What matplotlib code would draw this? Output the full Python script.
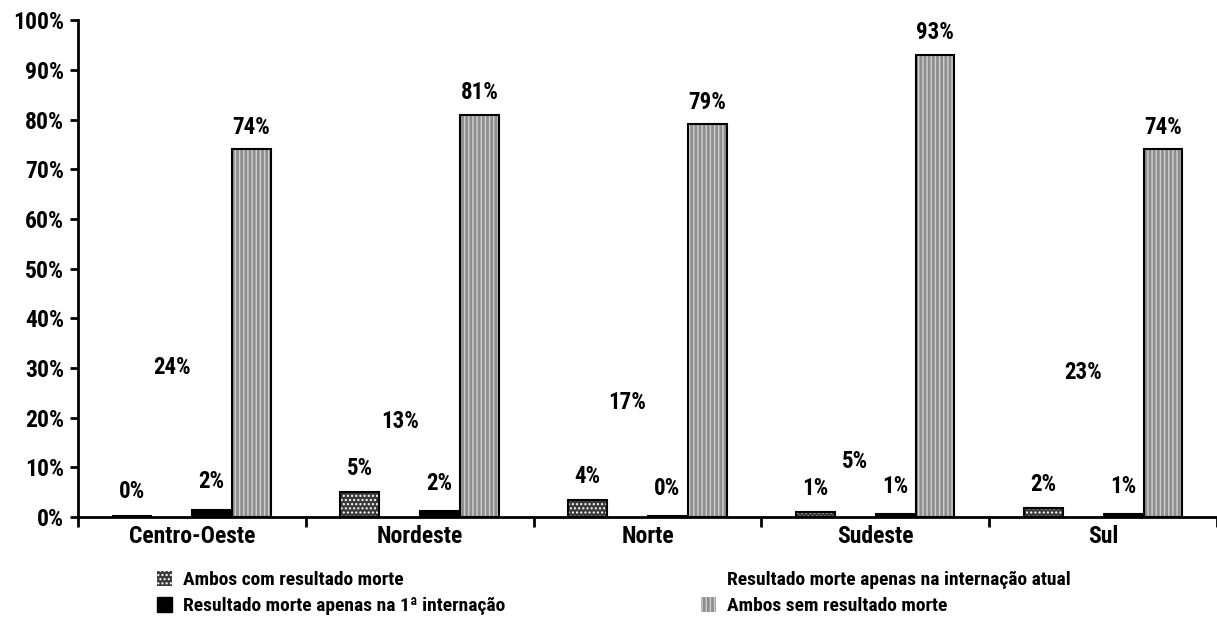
import matplotlib
matplotlib.use("Agg")
import matplotlib.pyplot as plt
from matplotlib.patches import Patch
import numpy as np

regions = ["Centro-Oeste", "Nordeste", "Norte", "Sudeste", "Sul"]
series_names = ["Ambos com resultado morte",
                "Resultado morte apenas na internação atual",
                "Resultado morte apenas na 1ª internação",
                "Ambos sem resultado morte"]
ambos_com = [0.3, 5, 3.5, 1, 1.8]
atual = [24, 13, 17, 5, 23]
primeira = [1.5, 1.2, 0.2, 0.6, 0.6]
ambos_sem = [74, 81, 79, 93, 74]
labels_com = ["0%", "5%", "4%", "1%", "2%"]
labels_atual = ["24%", "13%", "17%", "5%", "23%"]
labels_primeira = ["2%", "2%", "0%", "1%", "1%"]
labels_sem = ["74%", "81%", "79%", "93%", "74%"]
yticks = list(range(0, 101, 10))

plt.rcParams['font.family'] = ['Roboto Condensed', 'Liberation Sans Narrow', 'Liberation Sans', 'DejaVu Sans']
plt.rcParams['font.weight'] = 'bold'
plt.rcParams['hatch.linewidth'] = 1.0

FS = 17
LFS = 16.5
LEGFS = 14

fig = plt.figure(figsize=(12.17, 6.29), dpi=100)
ax = fig.add_axes([0.064, 0.178, 0.936, 0.79])

x = np.arange(len(regions))
w = 0.175
offs = [-1.5 * w, -0.5 * w, 0.5 * w, 1.5 * w]

SEM_FACE = '#8e8e8e'
SEM_HATCH = '#d0d0d0'

# Ambos com: dark dotted
ax.bar(x + offs[0], ambos_com, w * 0.97, facecolor='#3a3a3a', edgecolor='white',
       hatch='....', linewidth=0, zorder=2)
ax.bar(x + offs[0], ambos_com, w * 0.97, facecolor='none', edgecolor='black',
       linewidth=1.5, zorder=3)
# atual: white invisible
ax.bar(x + offs[1], atual, w * 0.97, facecolor='white', edgecolor='none', zorder=2)
# primeira: black
ax.bar(x + offs[2], primeira, w * 0.97, facecolor='black', edgecolor='black',
       linewidth=1.5, zorder=2)
# ambos sem: light stipple
ax.bar(x + offs[3], ambos_sem, w * 0.97, facecolor=SEM_FACE, edgecolor=SEM_HATCH,
       hatch='||||', linewidth=0, zorder=2)
ax.bar(x + offs[3], ambos_sem, w * 0.97, facecolor='none', edgecolor='black',
       linewidth=1.5, zorder=3)

def lab(vals, texts, off, dy):
    for xi, v, t in zip(x, vals, texts):
        ax.annotate(t, (xi + off, v), xytext=(0, dy), textcoords='offset points',
                    ha='center', va='center', fontsize=LFS, fontweight='bold')

lab(ambos_com, labels_com, offs[0], 17)
lab(atual, labels_atual, offs[1], 22)
lab(primeira, labels_primeira, offs[2], 20)
lab(ambos_sem, labels_sem, offs[3], 16)

ax.set_xlim(-0.5, 4.5)
ax.set_ylim(0, 100)
ax.set_yticks(yticks)
ax.set_yticklabels([f"{t}%" for t in yticks], fontsize=FS, fontweight='bold')
ax.set_xticks(x)
ax.set_xticklabels(regions, fontsize=FS, fontweight='bold')
ax.set_xticks(np.arange(-0.5, 5.0, 1.0), minor=True)
ax.tick_params(axis='x', which='major', length=0, pad=6)
ax.tick_params(axis='x', which='minor', length=7, width=2, direction='out')
ax.tick_params(axis='y', length=6, width=2, direction='out', pad=4)
for s in ['top', 'right']:
    ax.spines[s].set_visible(False)
ax.spines['left'].set_linewidth(2)
ax.spines['bottom'].set_linewidth(2)

handles = [
    Patch(facecolor='#3a3a3a', edgecolor='white', hatch='....', linewidth=0),
    Patch(facecolor='white', edgecolor='none'),
    Patch(facecolor='black', edgecolor='black'),
    Patch(facecolor=SEM_FACE, edgecolor=SEM_HATCH, hatch='||||', linewidth=0),
]
common = dict(loc='lower left', frameon=False, prop={'weight': 'bold', 'size': LEGFS},
              handlelength=0.75, handleheight=0.75, handletextpad=0.6,
              labelspacing=0.42, borderpad=0.2)
leg1 = fig.legend([handles[0], handles[2]], [series_names[0], series_names[2]],
                  bbox_to_anchor=(0.118, 0.0), **common)
leg2 = fig.legend([handles[1], handles[3]], [series_names[1], series_names[3]],
                  bbox_to_anchor=(0.565, 0.0), **common)

fig.savefig("out.png", dpi=100)
